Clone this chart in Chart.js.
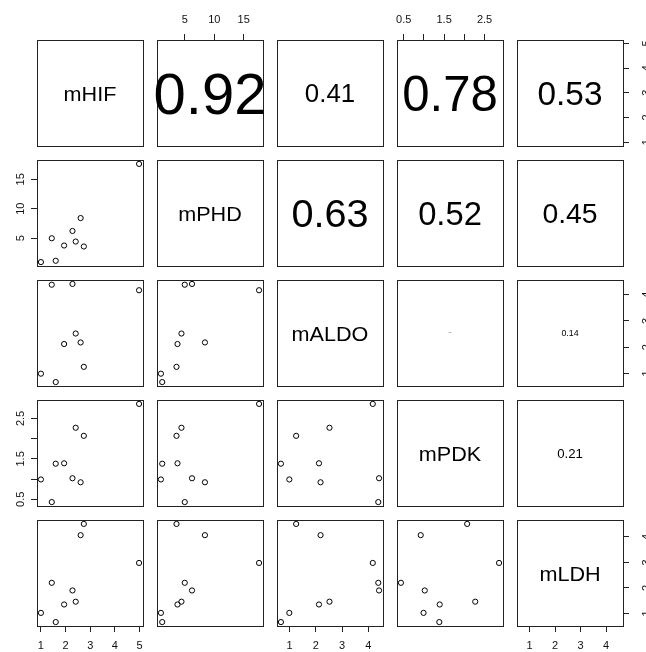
<!DOCTYPE html>
<html>
<head>
<meta charset="utf-8">
<script src="https://cdn.jsdelivr.net/npm/chart.js@4.4.0/dist/chart.umd.min.js"></script>
<style>
html, body { margin: 0; padding: 0; background: #fff; overflow: hidden; width: 646px; height: 652px; position: relative; }
canvas { position: absolute; }
</style>
</head>
<body>
<script>
// variables of the pairs plot (nine samples each)
var names = ["mHIF", "mPHD", "mALDO", "mPDK", "mLDH"];
var mHIF  = [1.0, 1.6, 1.44, 1.94, 2.28, 2.41, 2.61, 2.74, 4.98];
var mPHD  = [0.96, 1.18, 5.0, 3.77, 6.23, 4.44, 8.42, 3.6, 17.6];
var mALDO = [0.99, 0.67, 4.38, 2.12, 4.41, 2.52, 2.18, 1.25, 4.17];
var mPDK  = [0.99, 1.38, 0.43, 1.39, 1.02, 2.27, 0.92, 2.07, 2.86];
var mLDH  = [1.02, 0.66, 2.20, 1.35, 1.90, 1.46, 4.07, 4.51, 2.98];

// correlations printed in the upper panels, row by row
var corText = ["0.92", "0.41", "0.78", "0.53", "0.63", "0.52", "0.45", "0.02", "0.14", "0.21"];

// axis ticks
var ticksHIF  = [1, 2, 3, 4, 5];
var ticksPHD  = [5, 10, 15];
var ticksALDO = [1, 2, 3, 4];
var ticksPDK  = [0.5, 1, 1.5, 2, 2.5];
var ticksLDH  = [1, 2, 3, 4];
var labelsHIF  = ["1", "2", "3", "4", "5"];
var labelsPHD  = ["5", "10", "15"];
var labelsALDO = ["1", "2", "3", "4"];
var labelsPDK  = ["0.5", "", "1.5", "", "2.5"];
var labelsLDH  = ["1", "2", "3", "4"];

var values = [mHIF, mPHD, mALDO, mPDK, mLDH];
var tickValues = [ticksHIF, ticksPHD, ticksALDO, ticksPDK, ticksLDH];
var tickLabels = [labelsHIF, labelsPHD, labelsALDO, labelsPDK, labelsLDH];

var FONT = "'Liberation Sans', Arial, Helvetica, sans-serif";
var PANEL = 106, STEP = 120, LEFT0 = 37, TOP0 = 40, MARGIN = 30, TICK = 6;
var INK = "#222";

// R style range: data range stretched by 4% on both ends
function range(v) {
    var lo = Math.min.apply(null, values[v]), hi = Math.max.apply(null, values[v]);
    var pad = (hi - lo) * 0.04;
    return [lo - pad, hi + pad];
}

var meas = document.createElement("canvas").getContext("2d");
meas.font = "11px " + FONT;
function widest(v) {
    return Math.max.apply(null, tickLabels[v].map(function(l) { return meas.measureText(l).width; }));
}

function axis(v, pos, show) {
    var horiz = (pos == "top" || pos == "bottom");
    var r = range(v);
    var pad = 7;
    if (pos == "left") pad = 16.5 - TICK - widest(v) / 2;
    if (pos == "right") pad = 23.5 - TICK - widest(v) / 2;
    return {
        type: "linear",
        position: pos,
        min: r[0],
        max: r[1],
        afterBuildTicks: function(s) {
            s.ticks = tickValues[v].map(function(t) { return {value: t}; });
        },
        afterFit: function(s) {
            if (horiz) s.height = MARGIN; else s.width = MARGIN;
        },
        grid: {display: show, drawOnChartArea: false, drawTicks: true, tickLength: TICK, color: INK, lineWidth: 1},
        border: {display: true, color: INK, width: 1},
        ticks: {
            display: show,
            autoSkip: false,
            font: {family: FONT, size: 11},
            color: "#111",
            padding: pad,
            minRotation: horiz ? 0 : 90,
            maxRotation: horiz ? 0 : 90,
            crossAlign: horiz ? "near" : "center",
            callback: function(val, idx) { return tickLabels[v][idx]; }
        }
    };
}

// text written in the diagonal and upper panels
function cellText(text, size, stretch, drop) {
    return {
        id: "cellText",
        afterDraw: function(chart) {
            var a = chart.chartArea, ctx = chart.ctx;
            ctx.save();
            ctx.fillStyle = "#000";
            ctx.font = size + "px " + FONT;
            ctx.textAlign = "center";
            ctx.textBaseline = "alphabetic";
            ctx.translate((a.left + a.right) / 2, (a.top + a.bottom) / 2 + size * drop);
            ctx.scale(stretch, 1);
            ctx.fillText(text, 0, 0);
            ctx.restore();
        }
    };
}

var k = 0;
for (var i = 0; i < 5; i++) {
    for (var j = 0; j < 5; j++) {
        var cv = document.createElement("canvas");
        cv.width = PANEL + 2 * MARGIN;
        cv.height = PANEL + 2 * MARGIN;
        cv.style.left = (LEFT0 + STEP * j - MARGIN) + "px";
        cv.style.top = (TOP0 + STEP * i - MARGIN) + "px";
        document.body.appendChild(cv);

        var data = [];
        var plugins = [];
        if (i > j) {
            data = values[j].map(function(x, n) { return {x: x, y: values[i][n]}; });
        } else if (i == j) {
            plugins.push(cellText(names[i], 20, 1.08, 0.4));
        } else {
            var txt = corText[k++];
            plugins.push(cellText(txt, 63 * Number(txt), 1, 0.36));
        }

        new Chart(cv.getContext("2d"), {
            type: "scatter",
            data: {
                datasets: [{
                    data: data,
                    xAxisID: "x",
                    yAxisID: "y",
                    pointStyle: "circle",
                    pointRadius: 2.6,
                    pointBorderWidth: 1,
                    pointBorderColor: "#000",
                    pointBackgroundColor: "rgba(0,0,0,0)"
                }]
            },
            options: {
                responsive: false,
                animation: false,
                devicePixelRatio: 1,
                events: [],
                layout: {padding: 0},
                plugins: {legend: {display: false}, tooltip: {enabled: false}},
                scales: {
                    x: axis(j, "bottom", i == 4 && j % 2 == 0),
                    x2: axis(j, "top", i == 0 && j % 2 == 1),
                    y: axis(i, "left", j == 0 && i % 2 == 1),
                    y2: axis(i, "right", j == 4 && i % 2 == 0)
                }
            },
            plugins: plugins
        });
    }
}
</script>
</body>
</html>
